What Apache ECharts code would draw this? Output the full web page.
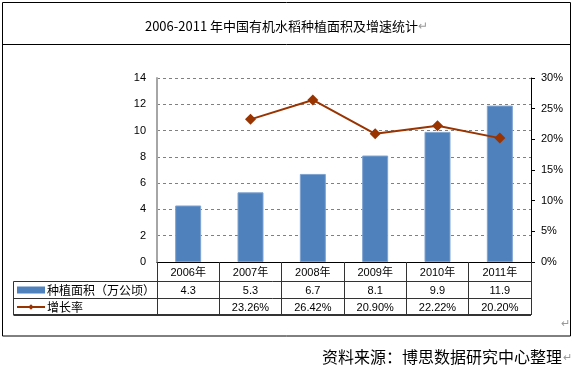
<!DOCTYPE html>
<html>
<head>
<meta charset="utf-8">
<script src="https://cdn.jsdelivr.net/npm/echarts@6/dist/echarts.min.js"></script>
<style>html,body{margin:0;padding:0;background:#fff;}#c{width:573px;height:367px;}</style>
</head>
<body>
<div id="c"></div>
<script>
// ---- data ----
const years = ['2006年', '2007年', '2008年', '2009年', '2010年', '2011年'];
const area = [4.3, 5.3, 6.7, 8.1, 9.9, 11.9];            // 种植面积（万公顷）
const growth = [null, 23.26, 26.42, 20.90, 22.22, 20.20]; // 增长率 %
const seriesNames = ['种植面积（万公顷）', '增长率'];
const titleText = '2006-2011 年中国有机水稻种植面积及增速统计';
const sourceText = '资料来源：博思数据研究中心整理';

const FONT = "'Liberation Sans','Noto Sans CJK SC',sans-serif";
const CJK = "'Noto Sans CJK SC','Liberation Sans',sans-serif";
const areaRow = area.map(v => v == null ? '' : v.toFixed(1));
const growthRow = growth.map(v => v == null ? '' : v.toFixed(2) + '%');

const chart = echarts.init(document.getElementById('c'), null, {renderer: 'canvas', width: 573, height: 367});
const tableColor = '#333';

const option = {
  animation: false,
  backgroundColor: '#fff',
  title: {
    text: titleText + '{r|↵}',
    left: 'center',
    top: 15,
    textStyle: {
      fontSize: 13, fontWeight: 'normal', color: '#000', fontFamily: CJK,
      rich: { r: { fontSize: 12, color: '#999', fontFamily: FONT } }
    }
  },
  legend: {
    orient: 'vertical',
    left: 16,
    top: 283,
    padding: 0,
    itemGap: 3,
    itemWidth: 28,
    itemHeight: 7,
    textStyle: { fontSize: 12, lineHeight: 14, color: '#000', fontFamily: CJK, padding: [0, 0, 0, -3] },
    data: [
      { name: seriesNames[0], icon: 'rect', itemStyle: { borderWidth: 0 } },
      { name: seriesNames[1] }
    ]
  },
  grid: { left: 157, right: 42, top: 78, bottom: 105, containLabel: false },
  xAxis: [
    {
      type: 'category', data: years, gridIndex: 0, position: 'bottom',
      axisLine: { show: true, lineStyle: { color: '#000', width: 1 } },
      axisTick: { show: true, length: 53, interval: 0, lineStyle: { color: tableColor, width: 1 } },
      axisLabel: { margin: 5, fontSize: 11, color: '#000', fontFamily: FONT, interval: 0 },
      splitLine: { show: false }
    },
    {
      type: 'category', data: areaRow, gridIndex: 0, position: 'bottom', offset: 18,
      axisLine: { show: false }, axisTick: { show: false },
      axisLabel: { margin: 5, fontSize: 11, color: '#000', fontFamily: FONT, interval: 0 },
      splitLine: { show: false }
    },
    {
      type: 'category', data: growthRow, gridIndex: 0, position: 'bottom', offset: 35,
      axisLine: { show: false }, axisTick: { show: false },
      axisLabel: { margin: 5, fontSize: 11, color: '#000', fontFamily: FONT, interval: 0 },
      splitLine: { show: false }
    }
  ],
  yAxis: [
    {
      type: 'value', min: 0, max: 14, interval: 2, position: 'left',
      axisLine: { show: true, lineStyle: { color: '#A6A6A6', width: 2 } },
      axisTick: { show: false },
      axisLabel: { margin: 11, fontSize: 11, color: '#000', fontFamily: FONT },
      splitLine: { show: true, lineStyle: { color: '#808080', type: [3, 3], width: 1 } }
    },
    {
      type: 'value', min: 0, max: 30, interval: 5, position: 'right',
      axisLine: { show: true, lineStyle: { color: '#000', width: 1 } },
      axisTick: { show: true, inside: false, length: 4, lineStyle: { color: '#000' } },
      axisLabel: { margin: 10, fontSize: 11, color: '#000', fontFamily: FONT, formatter: '{value}%' },
      splitLine: { show: false }
    }
  ],
  series: [
    {
      name: seriesNames[0], type: 'bar', data: area, xAxisIndex: 0, yAxisIndex: 0,
      barWidth: 26,
      itemStyle: { color: '#4F81BD', borderColor: '#7EA3D0', borderWidth: 1 }
    },
    {
      name: seriesNames[1], type: 'line', data: growth, xAxisIndex: 0, yAxisIndex: 1,
      symbol: 'diamond', symbolSize: 11, connectNulls: false,
      lineStyle: { color: '#993300', width: 2 },
      itemStyle: { color: '#993300' }
    }
  ],
  graphic: [
    // outer frame
    { type: 'rect', shape: { x: 2.5, y: 2.5, width: 568, height: 333.5 }, style: { fill: null, stroke: '#000', lineWidth: 1 }, z: 100, silent: true },
    { type: 'line', shape: { x1: 2.5, y1: 44.5, x2: 570.5, y2: 44.5 }, style: { stroke: '#000', lineWidth: 1 }, z: 100, silent: true },
    // table borders
    { type: 'line', shape: { x1: 13.5, y1: 281.5, x2: 531, y2: 281.5 }, style: { stroke: tableColor, lineWidth: 1 }, z: 100, silent: true },
    { type: 'line', shape: { x1: 13.5, y1: 298.5, x2: 531, y2: 298.5 }, style: { stroke: tableColor, lineWidth: 1 }, z: 100, silent: true },
    { type: 'line', shape: { x1: 13.5, y1: 315, x2: 531, y2: 315 }, style: { stroke: tableColor, lineWidth: 2 }, z: 100, silent: true },
    { type: 'line', shape: { x1: 13.5, y1: 281.5, x2: 13.5, y2: 315 }, style: { stroke: tableColor, lineWidth: 1 }, z: 100, silent: true },
    // paragraph mark inside frame
    { type: 'text', x: 561, y: 318, style: { text: '↵', fontSize: 11, fill: '#999', fontFamily: FONT }, z: 100, silent: true },
    // source footer
    { type: 'text', x: 562, y: 357, style: { text: sourceText, fontSize: 16, fill: '#000', fontFamily: CJK, textAlign: 'right', textVerticalAlign: 'middle' }, z: 100, silent: true },
    { type: 'text', x: 563, y: 358, style: { text: '↵', fontSize: 11, fill: '#999', fontFamily: FONT, textAlign: 'left', textVerticalAlign: 'middle' }, z: 100, silent: true }
  ]
};
chart.setOption(option);
</script>
</body>
</html>
